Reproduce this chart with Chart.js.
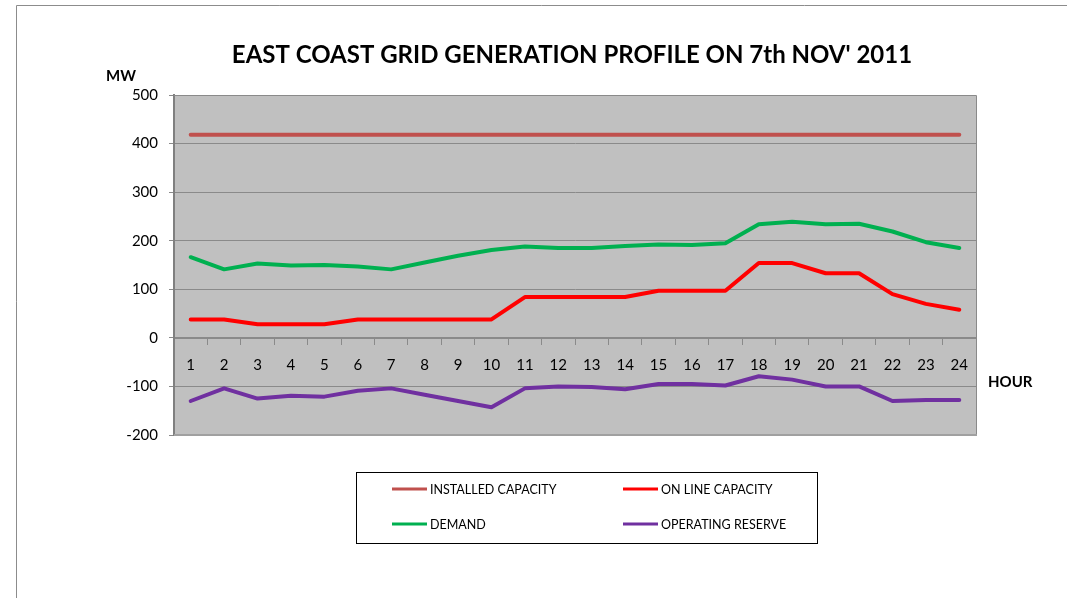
<!DOCTYPE html>
<html>
<head>
<meta charset="utf-8">
<script src="https://cdn.jsdelivr.net/npm/chart.js@4.4.1/dist/chart.umd.min.js"></script>
<style>
html,body{margin:0;padding:0;background:#fff;}
#wrap{position:relative;width:1067px;height:598px;}
</style>
</head>
<body>
<div id="wrap"><canvas id="c" width="1067" height="598"></canvas></div>
<script>
const hours = ["1","2","3","4","5","6","7","8","9","10","11","12","13","14","15","16","17","18","19","20","21","22","23","24"];
const installedCapacity = [418,418,418,418,418,418,418,418,418,418,418,418,418,418,418,418,418,418,418,418,418,418,418,418];
const onLineCapacity = [38,38,28,28,28,38,38,38,38,38,84,84,84,84,97,97,97,154,154,133,133,90,70,58];
const demand = [166,141,153,149,150,147,141,155,169,181,188,185,185,189,192,191,195,234,239,234,235,219,197,185];
const operatingReserve = [-130,-104,-125,-119,-121,-109,-104,-117,-130,-143,-104,-100,-101,-106,-95,-95,-98,-79,-86,-100,-100,-130,-128,-128];
const yTicks = [-200,-100,0,100,200,300,400,500];
const titleText = "EAST COAST GRID GENERATION PROFILE ON 7th NOV' 2011";

const FONT = "Lato, 'Open Sans', sans-serif";

const decor = {
  id: 'decor',
  beforeDraw(chart) {
    const ctx = chart.ctx, a = chart.chartArea;
    ctx.save();
    ctx.strokeStyle = '#8c8c8c';
    ctx.lineWidth = 1;
    ctx.beginPath();
    ctx.moveTo(16.5, 598);
    ctx.lineTo(16.5, 5.5);
    ctx.lineTo(1067, 5.5);
    ctx.stroke();
    ctx.fillStyle = '#C0C0C0';
    ctx.fillRect(a.left, a.top, a.right - a.left, a.bottom - a.top);
    ctx.restore();
  },
  afterDraw(chart) {
    const ctx = chart.ctx, a = chart.chartArea;
    ctx.save();
    ctx.strokeStyle = '#8a8a8a';
    ctx.lineWidth = 1;
    ctx.beginPath();
    ctx.moveTo(a.left, a.top + 0.5);
    ctx.lineTo(a.right + 0.5, a.top + 0.5);
    ctx.lineTo(a.right + 0.5, a.bottom);
    ctx.stroke();
    ctx.strokeStyle = '#a0a0a0';
    ctx.lineWidth = 2;
    ctx.beginPath();
    ctx.moveTo(a.left, a.bottom);
    ctx.lineTo(a.right + 1, a.bottom);
    ctx.stroke();
    ctx.fillStyle = '#000';
    ctx.textAlign = 'center';
    ctx.textBaseline = 'middle';
    ctx.font = "bold 24px " + FONT;
    ctx.fillText(titleText, (a.left + a.right) / 2 - 3, 55);
    ctx.font = "bold 15px " + FONT;
    ctx.fillText("MW", 121, 76);
    ctx.textAlign = 'left';
    ctx.fillText("HOUR", 988, 382);
    ctx.strokeStyle = '#000';
    ctx.lineWidth = 1;
    ctx.strokeRect(356.5, 472.5, 461, 71);
    const cols = [392, 623], rows = [489, 524];
    ctx.font = "12.5px " + FONT;
    ctx.textBaseline = 'middle';
    chart.data.datasets.forEach((ds, i) => {
      const x = cols[i % 2], y = rows[Math.floor(i / 2)];
      ctx.strokeStyle = ds.borderColor;
      ctx.lineWidth = 3;
      ctx.beginPath();
      ctx.moveTo(x, y);
      ctx.lineTo(x + 35, y);
      ctx.stroke();
      ctx.fillStyle = '#000';
      ctx.fillText(ds.label, x + 38, y + 1);
    });
    ctx.restore();
  }
};

const mk = (label, data, color) => ({
  label, data, borderColor: color, backgroundColor: color,
  borderWidth: 4, pointRadius: 0, pointHoverRadius: 0, tension: 0,
  borderCapStyle: 'round', borderJoinStyle: 'round', fill: false
});

new Chart(document.getElementById('c'), {
  type: 'line',
  data: {
    labels: hours,
    datasets: [
      mk("INSTALLED CAPACITY", installedCapacity, '#C0504D'),
      mk("ON LINE CAPACITY", onLineCapacity, '#FF0000'),
      mk("DEMAND", demand, '#00B050'),
      mk("OPERATING RESERVE", operatingReserve, '#7030A0')
    ]
  },
  options: {
    responsive: false,
    animation: false,
    events: [],
    layout: { padding: { top: 95, right: 91, bottom: 163, left: 0 } },
    plugins: { legend: { display: false }, title: { display: false }, tooltip: { enabled: false } },
    scales: {
      x: {
        type: 'category',
        offset: true,
        position: { y: 0 },
        border: { display: true, color: '#8a8a8a', width: 2 },
        grid: { display: true, offset: true, drawOnChartArea: false, drawTicks: true, tickLength: 6, color: '#8a8a8a', lineWidth: 1 },
        ticks: { color: '#000', font: { family: FONT, size: 15 }, padding: 12, maxRotation: 0, autoSkip: false }
      },
      y: {
        min: -200, max: 500,
        afterFit: s => { s.width = 174; },
        afterBuildTicks: s => { s.ticks = yTicks.map(v => ({ value: v })); },
        border: { display: true, color: '#808080', width: 2 },
        grid: { color: '#8a8a8a', lineWidth: 1, drawTicks: true, tickLength: 5 },
        ticks: { color: '#000', font: { family: FONT, size: 15 }, padding: 11 }
      }
    }
  },
  plugins: [decor]
});
</script>
</body>
</html>
